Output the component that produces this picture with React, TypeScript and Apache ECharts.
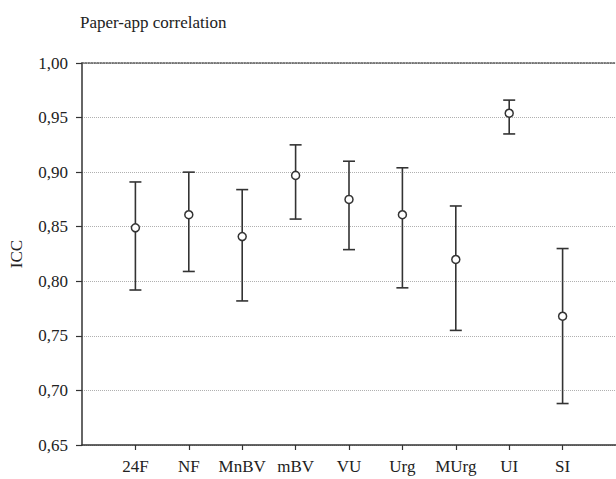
import React, { useEffect, useRef } from "react";
import * as echarts from "echarts";

const categories = ["24F", "NF", "MnBV", "mBV", "VU", "Urg", "MUrg", "UI", "SI"];
const iccMean = [0.849, 0.861, 0.841, 0.897, 0.875, 0.861, 0.82, 0.954, 0.768];
const iccLower = [0.792, 0.809, 0.782, 0.857, 0.829, 0.794, 0.755, 0.935, 0.688];
const iccUpper = [0.891, 0.9, 0.884, 0.925, 0.91, 0.904, 0.869, 0.966, 0.83];
const yTicks = [0.65, 0.7, 0.75, 0.8, 0.85, 0.9, 0.95, 1.0];

const FONT = "'Liberation Serif', 'DejaVu Serif', serif";

export default function App() {
  const ref = useRef<HTMLDivElement>(null);
  useEffect(() => {
    if (!ref.current) return;
    const chart = echarts.init(ref.current, null, { renderer: "svg" });
    const axisCats = ["", ...categories, " "];
    const errData = categories.map((c, i) => [i + 1, iccLower[i], iccUpper[i]]);
    const meanData = categories.map((c, i) => [i + 1, iccMean[i]]);
    chart.setOption({
      animation: false,
      backgroundColor: "#fff",
      title: {
        text: "Paper-app correlation",
        left: 75,
        top: 9,
        textStyle: { fontFamily: FONT, fontSize: 17, fontWeight: "normal", color: "#222" },
      },
      grid: { left: 82, right: 0, top: 63, bottom: 34, outerBoundsMode: "none", containLabel: false },
      xAxis: [
        {
          type: "category",
          data: axisCats,
          boundaryGap: false,
          axisLine: { show: true, lineStyle: { color: "#333", width: 1.5 } },
          axisTick: {
            show: true,
            length: 5,
            interval: (idx: number) => idx > 0 && idx < axisCats.length - 1,
            lineStyle: { color: "#333", width: 1.2 },
          },
          axisLabel: {
            margin: 13,
            fontFamily: FONT,
            fontSize: 17,
            color: "#222",
            interval: 0,
            formatter: (v: string) => v.trim(),
          },
          splitLine: { show: false },
        },
        {
          type: "category",
          position: "top",
          data: axisCats,
          boundaryGap: false,
          axisLine: { show: true, lineStyle: { color: "#555", width: 1.5, type: "dotted" } },
          axisTick: { show: false },
          axisLabel: { show: false },
        },
      ],
      yAxis: {
        type: "value",
        min: 0.65,
        max: 1.0,
        interval: 0.05,
        name: "ICC",
        nameLocation: "middle",
        nameGap: 57,
        nameRotate: 90,
        nameTextStyle: { fontFamily: FONT, fontSize: 17, color: "#222" },
        axisLine: { show: true, lineStyle: { color: "#333", width: 1.5 } },
        axisTick: { show: true, length: 6, lineStyle: { color: "#333", width: 1.2 } },
        axisLabel: {
          margin: 14,
          fontFamily: FONT,
          fontSize: 17,
          color: "#222",
          formatter: (v: number) => {
            const t = yTicks.find((y) => Math.abs(y - v) < 1e-6);
            return (t ?? v).toFixed(2).replace(".", ",");
          },
        },
        splitLine: { show: true, lineStyle: { color: "#b0b0b0", type: "dotted", width: 1 } },
      },
      series: [
        {
          type: "custom",
          xAxisIndex: 0,
          data: errData,
          z: 2,
          renderItem: (params: any, api: any) => {
            const x = api.value(0);
            const lo = api.coord([x, api.value(1)]);
            const hi = api.coord([x, api.value(2)]);
            const hw = 6;
            const style = { stroke: "#333", lineWidth: 1.6, fill: "none" };
            return {
              type: "group",
              children: [
                { type: "line", shape: { x1: hi[0], y1: hi[1], x2: lo[0], y2: lo[1] }, style },
                { type: "line", shape: { x1: hi[0] - hw, y1: hi[1], x2: hi[0] + hw, y2: hi[1] }, style },
                { type: "line", shape: { x1: lo[0] - hw, y1: lo[1], x2: lo[0] + hw, y2: lo[1] }, style },
              ],
            };
          },
        },
        {
          type: "scatter",
          xAxisIndex: 0,
          data: meanData,
          symbol: "circle",
          symbolSize: 8,
          z: 3,
          itemStyle: { color: "#fff", borderColor: "#333", borderWidth: 1.5, opacity: 1 },
        },
      ],
    });
    return () => chart.dispose();
  }, []);
  return (
    <div
      ref={ref}
      style={{ position: "fixed", left: 0, top: 0, width: 616, height: 479, background: "#fff" }}
    />
  );
}
